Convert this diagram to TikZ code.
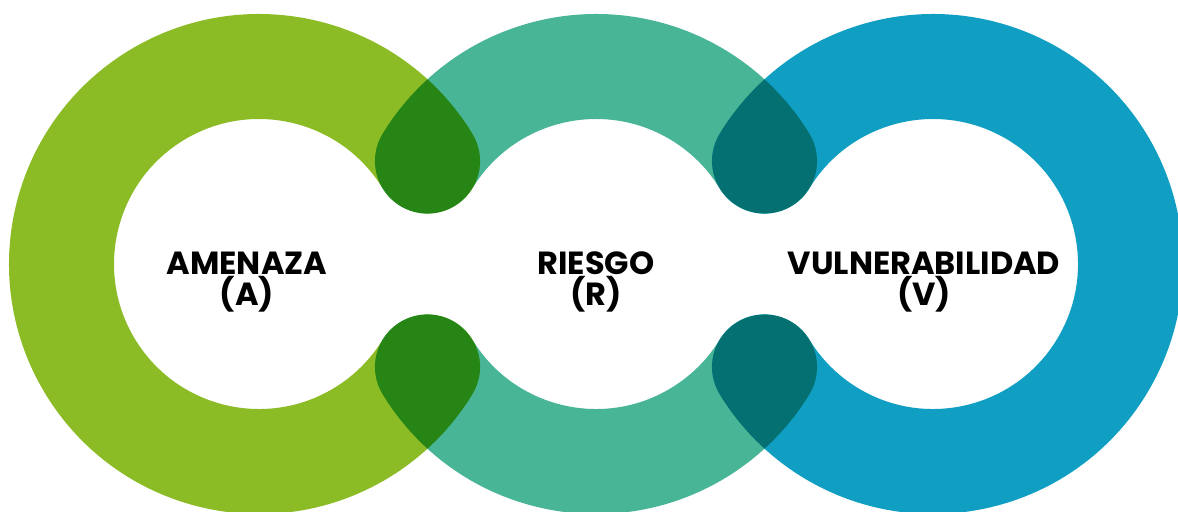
\documentclass[tikz,border=0pt]{standalone}
\usepackage{fontspec}
\setmainfont{Poppins}
\definecolor{rGreen}{RGB}{139,188,37}
\definecolor{rTeal}{RGB}{72,181,150}
\definecolor{rBlue}{RGB}{16,159,195}
\tikzset{
    band/.style={line width=52.5pt, line cap=round, blend mode=multiply},
    lbl/.style={font=\bfseries\fontsize{16}{13}\selectfont, align=center, inner sep=0pt}
}

\begin{document}
\begin{tikzpicture}[x=0.5pt,y=0.5pt]
\fill[white] (0,0) rectangle (1178,511);
\useasboundingbox (0,0) rectangle (1178,511);
\draw[band,rGreen] (259,247) ++(31.4:197.5)  arc[start angle=31.4,  end angle=328.6,  radius=98.75pt];
\draw[band,rTeal]  (596,247) ++(148.6:197.5) arc[start angle=148.6, end angle=31.4,   radius=98.75pt];
\draw[band,rTeal]  (596,247) ++(211.4:197.5) arc[start angle=211.4, end angle=328.6,  radius=98.75pt];
\draw[band,rBlue]  (933,247) ++(148.6:197.5) arc[start angle=148.6, end angle=-148.6, radius=98.75pt];
\node[lbl] (amenaza) at (247,229) {AMENAZA\\(A)};
\node[lbl] (riesgo)  at (596,229) {RIESGO\\(R)};
\node[lbl] (vulner)  at (924,229) {VULNERABILIDAD\\(V)};
\end{tikzpicture}
\end{document}
